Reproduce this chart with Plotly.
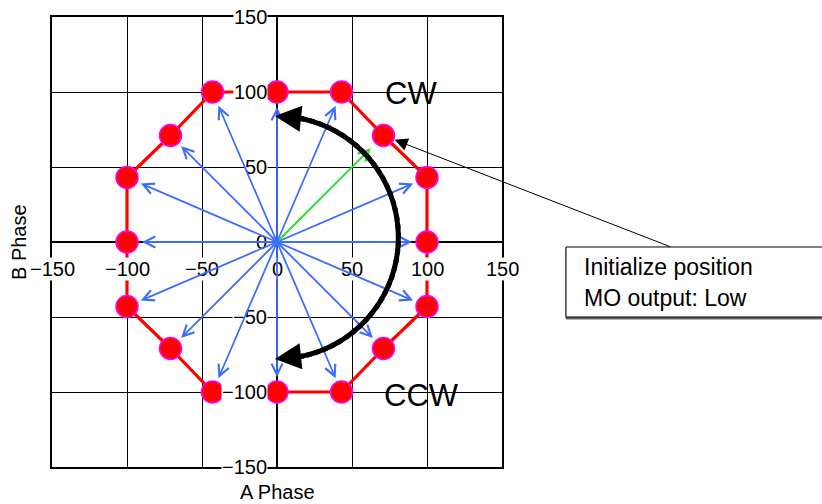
import math
import plotly.graph_objects as go

# ---- data ----
pos_a = [100, 100, 71, 43, 0, -43, -71, -100, -100, -100, -71, -43, 0, 43, 71, 100]
pos_b = [0, 43, 71, 100, 100, 100, 71, 43, 0, -43, -71, -100, -100, -100, -71, -43]
highlight_index = 2

tick_vals = [-150, -100, -50, 0, 50, 100, 150]
tick_text = ["\u2212150", "\u2212100", "\u221250", "0", "50", "100", "150"]

arc_center_a = 0
arc_center_b = 3
arc_radius = 81
arc_tip_deg = 91          # arrow tips at +91 and -91 degrees

dir_labels = ["CW", "CCW"]
dir_label_a = [89, 96]
dir_label_b = [99, -102]

callout_lines = ["Initialize position", "MO output: Low"]
x_title = "A Phase"
y_title = "B Phase"

# ---- styles ----
FONT = "Liberation Sans, Arial, sans-serif"
BLUE = "#3d6cff"
GREEN = "#22e022"
RED = "#ff0000"
MAGENTA = "#ff00ff"

fig = go.Figure()

# red octagon path
fig.add_trace(go.Scatter(
    x=pos_a + pos_a[:1], y=pos_b + pos_b[:1], mode="lines",
    line=dict(color=RED, width=3.2), hoverinfo="skip", showlegend=False))
fig.add_trace(go.Scatter(
    x=pos_a, y=pos_b, mode="markers",
    marker=dict(size=22, color=RED, line=dict(color=MAGENTA, width=1.5)),
    hoverinfo="skip", showlegend=False))

ann = []
tick_font = dict(family=FONT, size=20, color="black")
# tick labels (white background)
for v, t in zip(tick_vals, tick_text):
    ann.append(dict(x=v, y=0, xref="x", yref="y", text=t, showarrow=False,
                    yshift=-27, bgcolor="white", borderpad=0, font=tick_font))
for v, t in zip(tick_vals, tick_text):
    ann.append(dict(x=0, y=v, xref="x", yref="y", text=t, showarrow=False,
                    xanchor="right", xshift=-9, bgcolor="white", borderpad=0,
                    font=tick_font))

# vector arrows from origin
for i, (a, b) in enumerate(zip(pos_a, pos_b)):
    hl = (i == highlight_index)
    ann.append(dict(x=a, y=b, xref="x", yref="y", ax=0, ay=0, axref="x", ayref="y",
                    text="", showarrow=True, arrowhead=5, arrowsize=1.2,
                    arrowwidth=1.8, arrowcolor=GREEN if hl else BLUE,
                    standoff=18 if hl else 15, borderpad=0, font=dict(size=1)))

# big rotation arc (overlapping segments) drawn above the vectors
seg_from = arc_tip_deg - 11
n_seg = 40
step = 2 * seg_from / n_seg
for k in range(n_seg):
    t0 = math.radians(min(seg_from, seg_from - k * step + 2.5))
    t1 = math.radians(seg_from - (k + 1) * step)
    ann.append(dict(
        x=arc_center_a + arc_radius * math.cos(t1),
        y=arc_center_b + arc_radius * math.sin(t1),
        ax=arc_center_a + arc_radius * math.cos(t0),
        ay=arc_center_b + arc_radius * math.sin(t0),
        xref="x", yref="y", axref="x", ayref="y",
        text="", showarrow=True, arrowhead=0, arrowwidth=5,
        arrowcolor="black", borderpad=0, font=dict(size=1)))
# arrow heads at both ends
for sgn in (1, -1):
    tip_t = math.radians(sgn * arc_tip_deg)
    tail_t = math.radians(sgn * (arc_tip_deg - 14))
    ann.append(dict(
        x=arc_center_a + arc_radius * math.cos(tip_t),
        y=arc_center_b + arc_radius * math.sin(tip_t),
        ax=arc_center_a + arc_radius * math.cos(tail_t),
        ay=arc_center_b + arc_radius * math.sin(tail_t),
        xref="x", yref="y", axref="x", ayref="y", text="", showarrow=True,
        arrowhead=2, arrowsize=1.05, arrowwidth=5, arrowcolor="black",
        borderpad=0, font=dict(size=1)))

# CW / CCW
for t, a, b in zip(dir_labels, dir_label_a, dir_label_b):
    ann.append(dict(x=a, y=b, xref="x", yref="y", text=t, showarrow=False,
                    font=dict(family=FONT, size=31, color="black")))

# callout leader arrow
ann.append(dict(x=pos_a[highlight_index], y=pos_b[highlight_index], xref="x", yref="y",
                ax=287.5, ay=111.5, text="", showarrow=True, arrowhead=2,
                arrowsize=2.6, arrowwidth=1, arrowcolor="black", standoff=12,
                borderpad=0, font=dict(size=1)))

# callout text
for t, yp in zip(callout_lines, [0.4444, 0.3756]):
    ann.append(dict(x=1.177, y=yp, xref="paper", yref="paper", text=t, showarrow=False,
                    xanchor="left", yanchor="middle",
                    font=dict(family=FONT, size=23, color="black")))

# axis titles
ann.append(dict(x=0.5, y=-0.0556, xref="paper", yref="paper", text=x_title,
                showarrow=False, yanchor="middle", font=tick_font))
ann.append(dict(x=-0.0733, y=0.5, xref="paper", yref="paper", text=y_title,
                showarrow=False, textangle=-90, xanchor="center", font=tick_font))

shapes = [
    dict(type="rect", xref="paper", yref="paper", x0=1.1422, x1=2.2,
         y0=0.3333 - 2 / 450, y1=0.4889 - 2 / 450, line=dict(color="#666666", width=1),
         fillcolor="#666666", layer="above"),
    dict(type="rect", xref="paper", yref="paper", x0=1.1422, x1=2.2,
         y0=0.3333, y1=0.4889, line=dict(color="black", width=1),
         fillcolor="white", layer="above"),
]

axis_common = dict(range=[-150, 150], tick0=0, dtick=50, showgrid=True,
                   gridcolor="black", gridwidth=1, zeroline=True,
                   zerolinecolor="black", zerolinewidth=1.5, showline=True,
                   linecolor="black", linewidth=2, mirror=True,
                   showticklabels=False, ticks="", fixedrange=True)

fig.update_layout(
    width=822, height=504,
    margin=dict(l=52, r=320, t=17, b=37),
    paper_bgcolor="white", plot_bgcolor="white",
    xaxis=axis_common, yaxis=axis_common,
    annotations=ann, shapes=shapes, showlegend=False,
    font=dict(family=FONT),
)

fig.write_html(
    "out.html", config={"displayModeBar": False},
    post_script="document.body.style.margin='0';document.body.style.overflow='hidden';",
)
